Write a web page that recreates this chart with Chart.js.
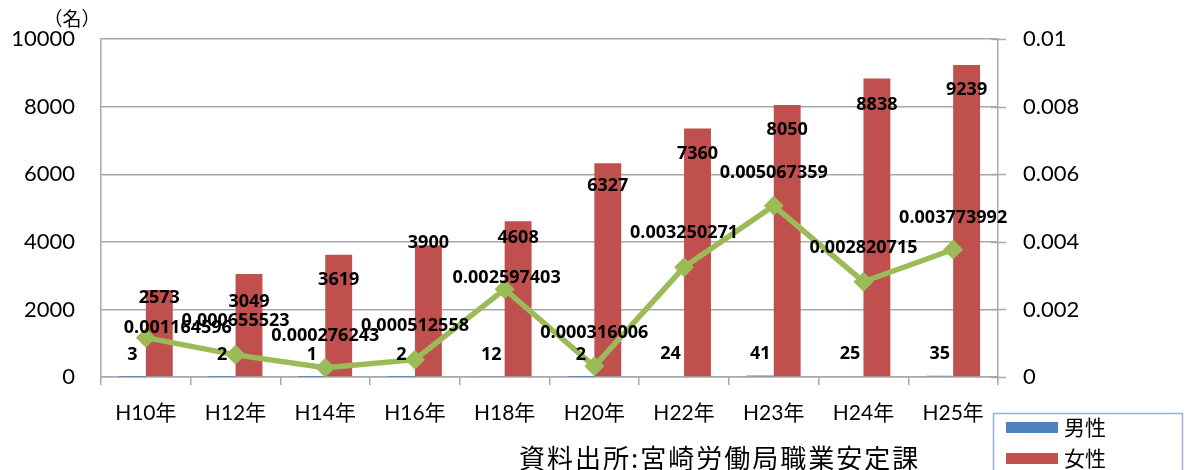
<!DOCTYPE html>
<html><head><meta charset="utf-8">
<script src="https://cdn.jsdelivr.net/npm/chart.js@4.4.1/dist/chart.umd.min.js"></script>
<style>html,body{margin:0;padding:0;background:#fff}#wrap{position:relative;width:1188px;height:470px}</style>
</head><body><div id="wrap"><canvas id="c" width="1188" height="470"></canvas></div>
<script>
const categories = ['H10年','H12年','H14年','H16年','H18年','H20年','H22年','H23年','H24年','H25年'];
const male = [3,2,1,2,12,2,24,41,25,35];
const female = [2573,3049,3619,3900,4608,6327,7360,8050,8838,9239];
const ratio = [0.001164596,0.000655523,0.000276243,0.000512558,0.002597403,0.000316006,0.003250271,0.005067359,0.002820715,0.003773992];
const leftTicks = [0,2000,4000,6000,8000,10000];
const rightTicks = [0,0.002,0.004,0.006,0.008,0.01];
const seriesNames = ['男性','女性'];
const unitLabel = '（名）';
const sourceText = '資料出所:宮崎労働局職業安定課';

// label nudges (styling only)
const femaleDy = [8,28,25,-2,17,23,25,25,26,25];
const lineDx = [32,0,0,0,2,0,0,0,0,0];
const lineDy = [-10,-34,-32,-34,-11,-33,-34,-33,-34,-32];

const GRID = '#a8a8a8';
const FONT = "Lato, 'Noto Sans CJK JP', sans-serif";
const LBL = "'Open Sans', sans-serif";
const CJK = "'Noto Sans CJK JP', sans-serif";

const labelPlugin = {
  id: 'valLabels',
  afterDatasetsDraw(chart) {
    const ctx = chart.ctx;
    ctx.save();
    ctx.fillStyle = '#000';
    ctx.font = "bold 18px " + LBL;
    ctx.textAlign = 'center';
    ctx.textBaseline = 'middle';
    chart.getDatasetMeta(0).data.forEach((el, i) => ctx.fillText(String(male[i]), el.x, el.y - 22));
    chart.getDatasetMeta(1).data.forEach((el, i) => ctx.fillText(String(female[i]), el.x, el.y + femaleDy[i]));
    chart.getDatasetMeta(2).data.forEach((el, i) => ctx.fillText(String(ratio[i]), el.x + lineDx[i], el.y + lineDy[i]));
    ctx.restore();
  }
};

const extrasPlugin = {
  id: 'extras',
  afterDraw(chart) {
    const ctx = chart.ctx;
    const a = chart.chartArea;
    const yR = chart.scales.yR;
    ctx.save();
    // right axis cross ticks
    ctx.strokeStyle = GRID; ctx.lineWidth = 1.5;
    rightTicks.forEach(v => {
      const y = Math.round(yR.getPixelForValue(v)) + 0.5;
      ctx.beginPath(); ctx.moveTo(a.right - 7, y); ctx.lineTo(a.right + 8, y); ctx.stroke();
    });
    // unit label
    ctx.fillStyle = '#000';
    ctx.font = "19px " + CJK;
    ctx.textAlign = 'center'; ctx.textBaseline = 'middle';
    ctx.fillText(unitLabel, 72, 19);
    // source
    ctx.font = "26px " + CJK;
    ctx.textAlign = 'left';
    ctx.letterSpacing = '2px';
    ctx.fillText(sourceText, 519, 458);
    ctx.letterSpacing = '0px';
    // legend
    ctx.fillStyle = '#fff';
    ctx.fillRect(993, 413, 189, 60);
    ctx.strokeStyle = '#98b0d4'; ctx.lineWidth = 1.5;
    ctx.strokeRect(993.5, 413.5, 189, 60);
    const cols = ['#4F81BD', '#C0504D'];
    const ys = [427, 458];
    ctx.textAlign = 'left';
    ctx.font = "21px " + CJK;
    seriesNames.forEach((n, i) => {
      ctx.fillStyle = cols[i];
      ctx.fillRect(1006, ys[i] - 5, 52, 11);
      ctx.fillStyle = '#000';
      ctx.fillText(n, 1064, ys[i]);
    });
    ctx.restore();
  }
};

new Chart(document.getElementById('c'), {
  data: {
    labels: categories,
    datasets: [
      { type: 'bar', label: seriesNames[0], data: male, backgroundColor: '#4F81BD', yAxisID: 'y', order: 2,
        categoryPercentage: 0.6, barPercentage: 1.0 },
      { type: 'bar', label: seriesNames[1], data: female, backgroundColor: '#C0504D', yAxisID: 'y', order: 2,
        categoryPercentage: 0.6, barPercentage: 1.0 },
      { type: 'line', label: '比率', data: ratio, yAxisID: 'yR', order: 0,
        borderColor: '#9BBB59', backgroundColor: '#9BBB59', borderWidth: 5.5, tension: 0,
        pointStyle: 'rectRot', pointRadius: 10, pointBorderWidth: 0, pointBackgroundColor: '#9BBB59' }
    ]
  },
  options: {
    responsive: false, animation: false, devicePixelRatio: 1,
    layout: { padding: { top: 39, left: 0, right: 0, bottom: 0 } },
    plugins: { legend: { display: false }, tooltip: { enabled: false } },
    scales: {
      x: {
        grid: { display: true, drawOnChartArea: false, drawTicks: true, tickLength: 8, color: GRID, lineWidth: 1.5, offset: true },
        border: { display: true, color: GRID, width: 1.5 },
        ticks: { color: '#000', font: { family: FONT, size: 21 }, padding: 16, maxRotation: 0, autoSkip: false },
        afterFit(s) { s.height = 93; }
      },
      y: {
        position: 'left', min: 0, max: 10000,
        afterBuildTicks(s) { s.ticks = leftTicks.map(v => ({ value: v })); },
        grid: { color: GRID, lineWidth: 1.5, drawTicks: false, tickLength: 0 },
        border: { display: true, color: GRID, width: 1.5 },
        ticks: { color: '#000', font: { family: FONT, size: 22 }, padding: 26, callback: v => String(v) },
        afterFit(s) { s.width = 101; }
      },
      yR: {
        position: 'right', min: 0, max: 0.01,
        afterBuildTicks(s) { s.ticks = rightTicks.map(v => ({ value: v })); },
        grid: { drawOnChartArea: false, drawTicks: false, tickLength: 0 },
        border: { display: true, color: GRID, width: 1.5 },
        ticks: { color: '#000', font: { family: FONT, size: 22 }, padding: 25, callback: v => String(v) },
        afterFit(s) { s.width = 190; }
      }
    }
  },
  plugins: [labelPlugin, extrasPlugin]
});
</script></body></html>
